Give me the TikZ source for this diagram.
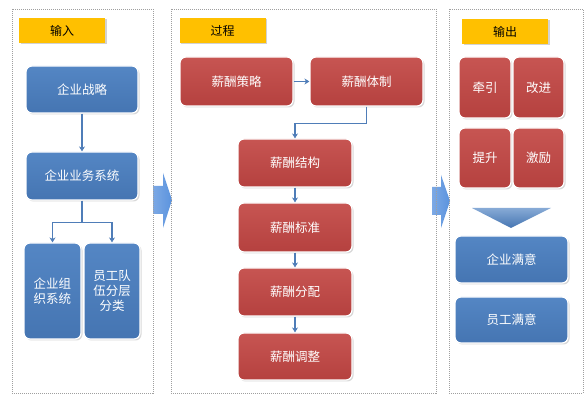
\documentclass[tikz,border=0pt]{standalone}
\usepackage{fontspec}
\setmainfont{Noto Sans CJK SC}
\usetikzlibrary{shadows,arrows.meta}
\definecolor{bluetop}{HTML}{5486C4}
\definecolor{bluebot}{HTML}{4575B2}
\definecolor{redtop}{HTML}{C75552}
\definecolor{redbot}{HTML}{B5413F}
\definecolor{tagyellow}{HTML}{FFC000}
\definecolor{linkblue}{HTML}{4F7DB8}
\definecolor{bigarrow}{HTML}{5B93DE}
\begin{document}
\begin{tikzpicture}[x=1pt,y=-1pt,
  panel/.style={draw=gray!75, dash pattern=on 1pt off 1pt, line width=0.8pt},
  tag/.style={fill=tagyellow, minimum width=86pt, minimum height=25pt, inner sep=0pt,
    font=\fontsize{12}{14}\selectfont,
    drop shadow={opacity=0.35, shadow xshift=1.5pt, shadow yshift=-1.5pt}},
  boxbase/.style={rounded corners=6pt, draw=white, line width=1.2pt, inner sep=0pt,
    text=white, align=center, font=\fontsize{12.5}{15}\selectfont,
    drop shadow={opacity=0.3, shadow xshift=1.5pt, shadow yshift=-1.5pt}},
  bluebox/.style={boxbase, top color=bluetop, bottom color=bluebot},
  redbox/.style={boxbase, top color=redtop, bottom color=redbot},
  link/.style={draw=linkblue, line width=1.4pt, -{Stealth[length=5pt,width=6pt]}},
  bigarr/.style={left color=bigarrow!80!white, right color=bigarrow, draw=none}
]
\useasboundingbox (0,0) rectangle (587,403);
\fill[white] (0,0) rectangle (587,403);

% big arrows between panels
\path[bigarr] (153,186) -- (163,186) -- (163,173) -- (172,200) -- (163,228) -- (163,214) -- (153,214) -- cycle;
\path[bigarr] (432,187) -- (441,187) -- (441,175) -- (450,201) -- (441,228) -- (441,215) -- (432,215) -- cycle;

% panels
\draw[panel] (12,9) rectangle (153,393);
\draw[panel] (171,9) rectangle (436,393);
\draw[panel] (449,9) rectangle (583,393);

% tags
\node[tag] (tin) at (62,30.5) {输入};
\node[tag] (tproc) at (222.5,30.5) {过程};
\node[tag] (tout) at (505,31.5) {输出};

% input column
\node[bluebox, minimum width=112pt, minimum height=47pt] (zl) at (82,89.5) {企业战略};
\node[bluebox, minimum width=112pt, minimum height=48pt] (ywxt) at (82,176) {企业业务系统};
\node[bluebox, minimum width=57pt, minimum height=96pt] (zzxt) at (52.5,291) {企业组\\织系统};
\node[bluebox, minimum width=56pt, minimum height=96pt] (ygdw) at (112,291) {员工队\\伍分层\\分类};

\draw[link] (zl.south) -- (ywxt.north);
\draw[link] (ywxt.south) -- ++(0,22) coordinate (br) -| (zzxt.north);
\draw[link] (br) -| (ygdw.north);

% process column
\node[redbox, minimum width=113pt, minimum height=49pt] (cl) at (236.5,81.5) {薪酬策略};
\node[redbox, minimum width=113pt, minimum height=49pt] (tzh) at (366.5,81.5) {薪酬体制};
\node[redbox, minimum width=114pt, minimum height=48pt] (jg) at (295,163) {薪酬结构};
\node[redbox, minimum width=114pt, minimum height=49pt] (bz) at (295,227.5) {薪酬标准};
\node[redbox, minimum width=114pt, minimum height=48pt] (fp) at (295,292) {薪酬分配};
\node[redbox, minimum width=114pt, minimum height=47pt] (tz) at (295,356.5) {薪酬调整};

\draw[link] (cl.east) -- (tzh.west);
\draw[link] (tzh.south) -- ++(0,17) -| (jg.north);
\draw[link] (jg.south) -- (bz.north);
\draw[link] (bz.south) -- (fp.north);
\draw[link] (fp.south) -- (tz.north);

% output column
\node[redbox, minimum width=52pt, minimum height=61pt] (qy) at (485,87.5) {牵引};
\node[redbox, minimum width=51pt, minimum height=61pt] (gj) at (538.5,87.5) {改进};
\node[redbox, minimum width=52pt, minimum height=60pt] (ts) at (485,158) {提升};
\node[redbox, minimum width=51pt, minimum height=60pt] (jl) at (538.5,158) {激励};

\shade[top color=bluetop!70!white, bottom color=bluebot] (472,208) -- (551,208) -- (511,228) -- cycle;

\node[bluebox, minimum width=113pt, minimum height=47pt] (qymy) at (511.5,259.5) {企业满意};
\node[bluebox, minimum width=113pt, minimum height=46pt] (ygmy) at (511.5,320) {员工满意};
\end{tikzpicture}
\end{document}
